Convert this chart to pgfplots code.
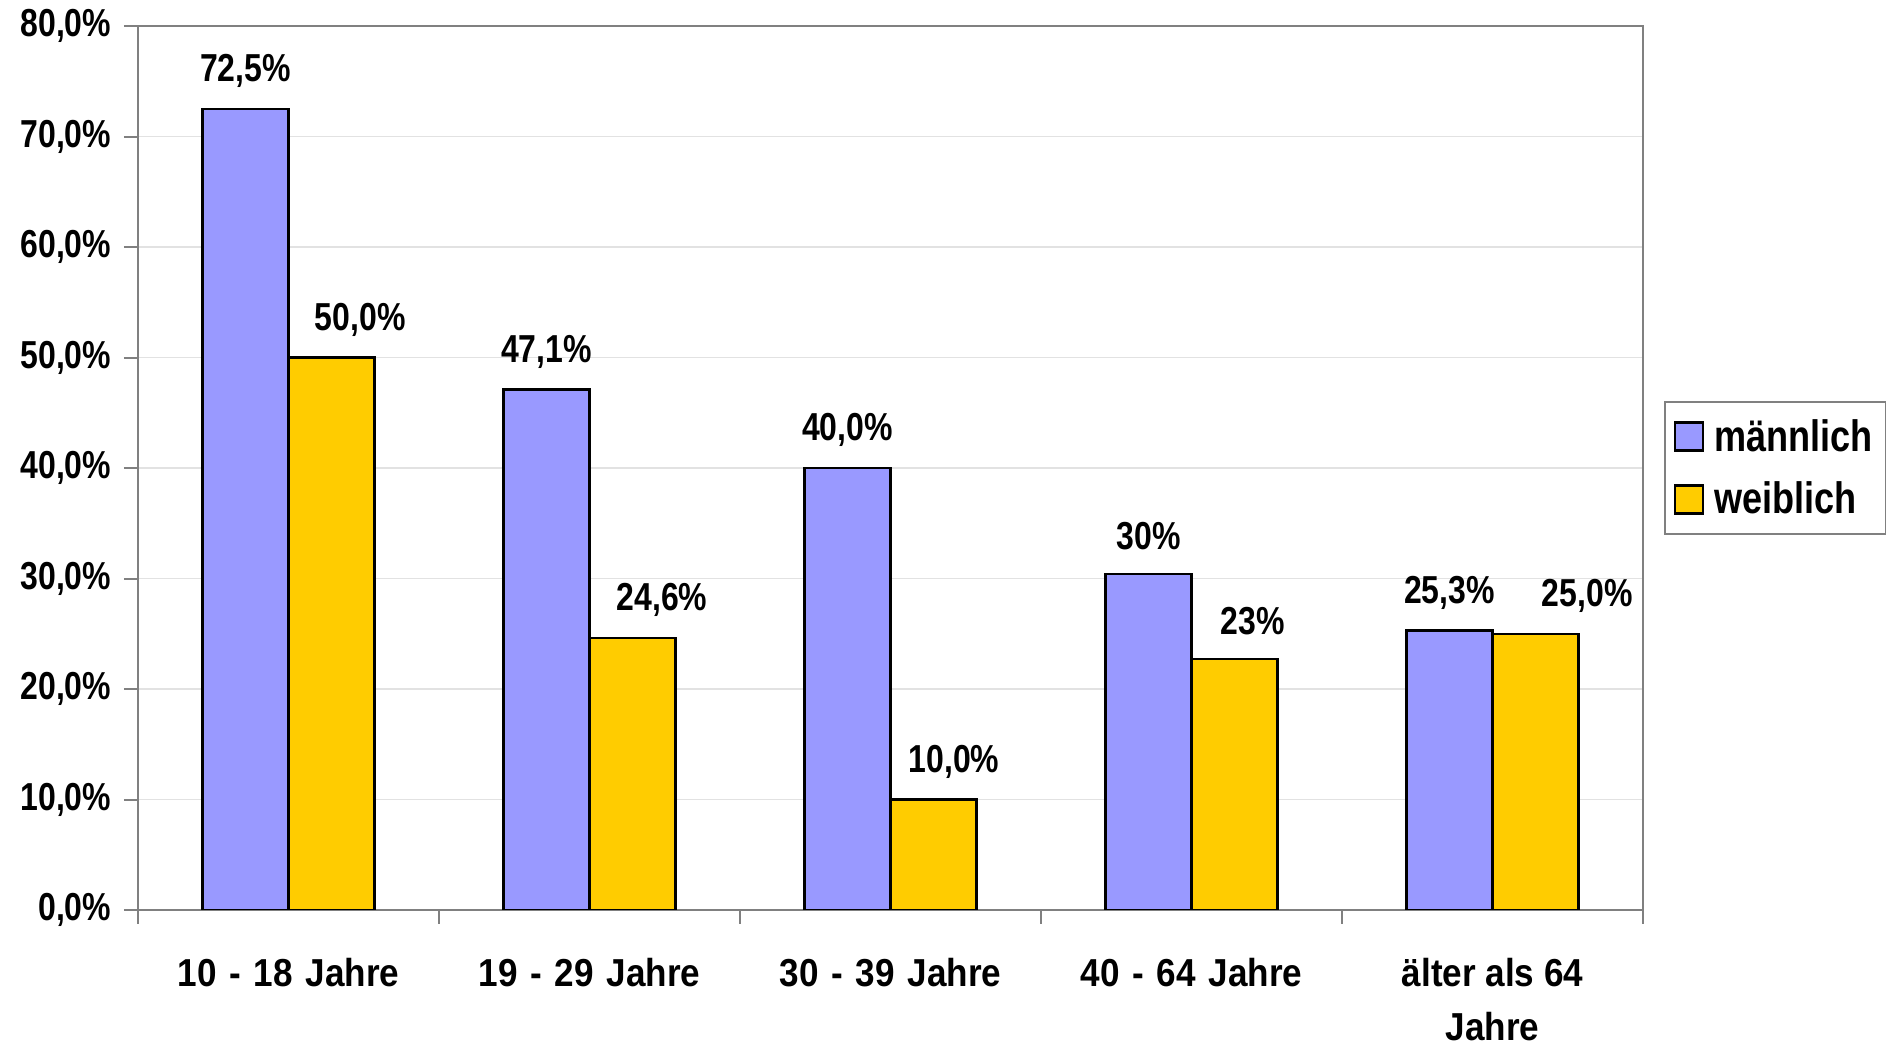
\documentclass[border=0pt]{standalone}
\usepackage{pgfplots}
\pgfplotsset{compat=1.18}
\usepackage{pgfplotstable}
\usepackage{fontspec}
\setmainfont{Liberation Sans}[FakeStretch=0.82]
\newfontfamily\xfont{Liberation Sans}[FakeStretch=0.9]
\definecolor{mblue}{HTML}{9999FF}
\definecolor{wyellow}{HTML}{FFCC00}
\definecolor{axgray}{HTML}{808080}
\definecolor{gridgray}{HTML}{E2E2E2}
\newcommand\xs{\hskip 1.5pt\relax}

\pgfplotstableread{
x y lab dx
0 72.5 72,5 0
1 47.1 47,1 0
2 40.0 40,0 0
3 30.4 30 0
4 25.3 25,3 0
}\maennlich
\pgfplotstableread{
x y lab dx
0 50.0 50,0 14.4
1 24.6 24,6 14.7
2 10.0 10,0 10.2
3 22.7 23 9.0
4 25.0 25,0 25.9
}\weiblich

\begin{document}
\begin{tikzpicture}
\path[use as bounding box] (-69pt,-70pt) rectangle (874.5pt,455pt);
\begin{axis}[
  at={(0pt,0pt)}, anchor=south west,
  scale only axis, width=752.5pt, height=442pt,
  xmin=-0.5, xmax=4.5, ymin=0, ymax=80,
  ybar, bar width=0.2857,
  ytick={0,10,...,80},
  yticklabels={{0,0\%},{10,0\%},{20,0\%},{30,0\%},{40,0\%},{50,0\%},{60,0\%},{70,0\%},{80,0\%}},
  xtick={-0.5,0.5,...,4.5},
  xticklabels={,,,,,},
  xtick pos=bottom, ytick pos=left,
  extra x ticks={0,1,2,3,4},
  extra x tick labels={10 \xs- \xs18 \xs Jahre,19 \xs- \xs29 \xs Jahre,30 \xs- \xs39 \xs Jahre,40 \xs- \xs64 \xs Jahre,{älter als 64\\Jahre}},
  extra x tick style={major tick length=0pt, xticklabel style={anchor=north, align=center, inner sep=0pt, yshift=-24pt, font=\xfont\bfseries\fontsize{19.5}{27}\selectfont}},
  ymajorgrids,
  grid style={draw=gridgray, line width=0.8pt},
  tick align=outside,
  major tick length=7pt,
  tick style={draw=axgray, line width=1pt},
  axis line style={draw=axgray, line width=1pt},
  /pgf/number format/assume math mode=true,
  tick label style={font=\bfseries\fontsize{19.5}{27}\selectfont},
  yticklabel style={anchor=east, inner sep=0pt, xshift=-6.2pt},
  point meta=explicit symbolic,
  nodes near coords={\pgfplotspointmeta\%},
  visualization depends on={\thisrow{dx} \as \dx},
  every node near coord/.append style={anchor=center, yshift=19pt, xshift=\dx pt, inner sep=0pt, font=\bfseries\fontsize{19.5}{24}\selectfont},
  legend style={at={(1.0139,0.5)}, anchor=west, draw=axgray, line width=0.8pt, fill=white,
    font=\bfseries\fontsize{22}{26}\selectfont, inner xsep=4.5pt, inner ysep=6.5pt,
    row sep=10pt, column sep=3pt},
  legend cell align=left,
  mylegend/.style={legend image code/.code={\draw[##1, line width=1.2pt] (0pt,-7pt) rectangle (14pt,7pt);}},
]
\addplot[fill=mblue, draw=black, line width=1.2pt, bar shift=-0.1429, mylegend] table[x=x, y=y, meta=lab] {\maennlich};
\addlegendentry{männlich}
\addplot[fill=wyellow, draw=black, line width=1.2pt, bar shift=0.1429, mylegend] table[x=x, y=y, meta=lab] {\weiblich};
\addlegendentry{weiblich}
\end{axis}
\end{tikzpicture}
\end{document}
